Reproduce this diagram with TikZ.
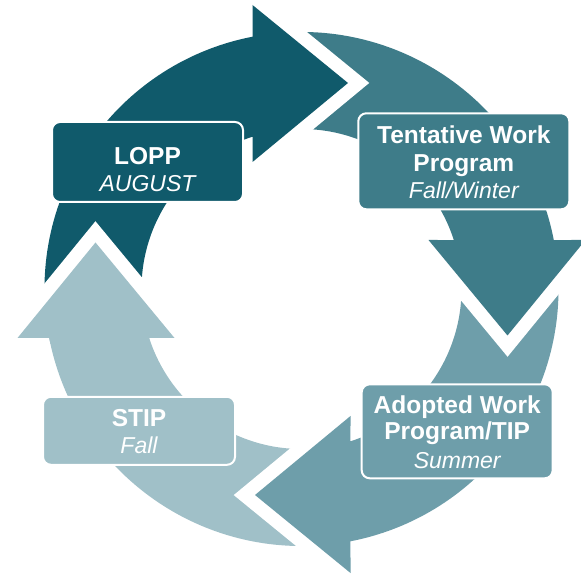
\documentclass[tikz,border=0pt]{standalone}
\usepackage{fontspec}
\setmainfont{Liberation Sans}
\definecolor{cA}{RGB}{16,90,107}
\definecolor{cB}{RGB}{62,124,137}
\definecolor{cC}{RGB}{110,158,170}
\definecolor{cD}{RGB}{160,192,200}
\tikzset{
  arrowshape/.style={fill=#1, preaction={draw=white, line width=27pt, line join=miter}},
  halo/.style={draw=white, line width=27pt, line join=miter},
  boxstyle/.style={fill=#1, draw=white, line width=2pt, rounded corners=8pt, inner sep=0pt},
  boldline/.style={text=white, font=\fontsize{24.5}{27.5}\selectfont\bfseries, anchor=base, inner sep=0pt},
  itline/.style={text=white, font=\fontsize{23}{27.5}\selectfont\itshape, anchor=base, inner sep=0pt},
}
\begin{document}
\begin{tikzpicture}[x=1pt,y=1pt]
\useasboundingbox (0,0) rectangle (581,573);
\clip (0,0) rectangle (581,573);
% four curved arrows, drawn 4,3,2,1
\foreach \k/\col in {3/cD, 2/cC, 1/cB, 0/cA} {
  \begin{scope}[shift={(301.5,284)}, rotate=-90*\k]
    \fill[arrowshape=\col] (186:257) arc[start angle=186, end angle=100.99, radius=257]
      -- (-49,284) -- (46.5,206) -- (-49,127) -- (107.83:160)
      arc[start angle=107.83, end angle=186, radius=160] -- cycle;
  \end{scope}
}
% head of the fourth arrow on top of the first arrow's tail
\begin{scope}[shift={(301.5,284)}, rotate=-270]
  \draw[halo] (-49,284) -- (46.5,206) -- (-49,127);
  \fill[cD] (-49,284) -- (46.5,206) -- (-49,127) -- (-49,152.3) -- (-55,153)
    -- (-55,251) -- (-49,252.3) -- cycle;
\end{scope}
% boxes
\node[boxstyle=cA, minimum width=191pt, minimum height=80pt] (lopp) at (147.5,411) {};
\node[boxstyle=cB, minimum width=211pt, minimum height=96pt] (twp) at (463.8,411.7) {};
\node[boxstyle=cC, minimum width=191pt, minimum height=94pt] (awp) at (457.2,141.7) {};
\node[boxstyle=cD, minimum width=192pt, minimum height=68pt] (stip) at (139,142.2) {};
% texts
\node[boldline] (lopp1) at (147.5,408.7) {LOPP};
\node[itline] (lopp2) at (147.5,381.3) {AUGUST};
\node[boldline] (twp1) at (463.8,429.7) {Tentative Work};
\node[boldline] (twp2) at (463.8,401.3) {Program};
\node[itline] (twp3) at (463.8,374) {Fall/Winter};
\node[boldline] (awp1) at (457.2,159.7) {Adopted Work};
\node[boldline] (awp2) at (457.2,133) {Program/TIP};
\node[itline] (awp3) at (457.2,104.7) {Summer};
\node[boldline] (stip1) at (139,146.3) {STIP};
\node[itline] (stip2) at (139,119.7) {Fall};
\end{tikzpicture}
\end{document}
